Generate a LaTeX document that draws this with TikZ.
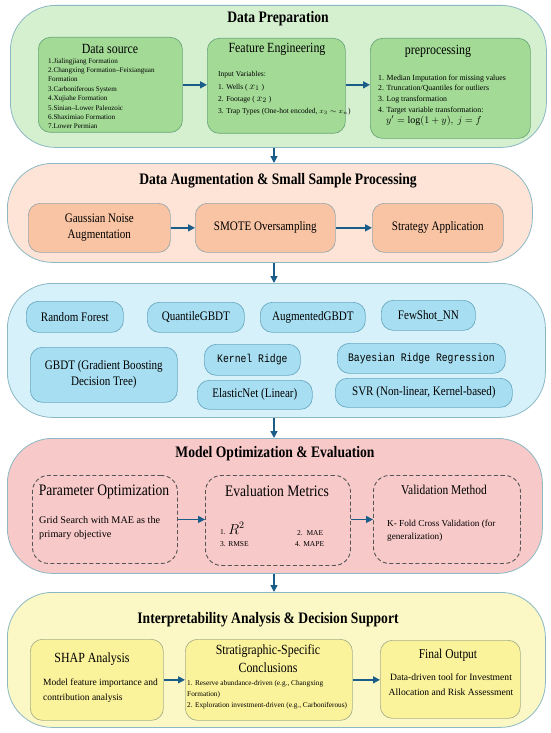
\documentclass[tikz,border=0pt]{standalone}
\usepackage{fontspec}
\setmainfont{Liberation Serif}
\newfontfamily\cond{Liberation Serif}[FakeStretch=0.85]
\newfontfamily\condmono{Liberation Mono}[FakeStretch=0.85]
\usetikzlibrary{arrows.meta}
\definecolor{pborder}{HTML}{8CB8C4}
\definecolor{gpanel}{HTML}{D5F0CF}
\definecolor{gboxc}{HTML}{A3DB96}
\definecolor{gboxb}{HTML}{6AA67A}
\definecolor{opanel}{HTML}{FDE4D6}
\definecolor{oboxc}{HTML}{F9C4A3}
\definecolor{oboxb}{HTML}{9AA7AD}
\definecolor{bpanel}{HTML}{D6F1FA}
\definecolor{bboxc}{HTML}{A8DEF1}
\definecolor{bboxb}{HTML}{6AAAC3}
\definecolor{ppanel}{HTML}{F8C9C9}
\definecolor{dashb}{HTML}{555555}
\definecolor{ypanel}{HTML}{FBF8C6}
\definecolor{yboxc}{HTML}{FBF39C}
\definecolor{yboxb}{HTML}{A9B08A}
\definecolor{arrc}{HTML}{1B5D89}
\tikzset{
  panel/.style={draw=pborder, line width=0.8pt, rounded corners=45pt, anchor=north west, inner sep=0},
  ibox/.style={line width=0.7pt, rounded corners=12pt, anchor=north west, inner sep=0},
  gbox/.style={ibox, draw=gboxb, fill=gboxc},
  obox/.style={ibox, draw=oboxb, fill=oboxc},
  bbox/.style={ibox, draw=bboxb, fill=bboxc},
  dbox/.style={ibox, draw=dashb, dashed, dash pattern=on 4pt off 2.5pt, line width=0.9pt, rounded corners=16pt},
  ybox/.style={ibox, draw=yboxb, fill=yboxc},
  arr/.style={draw=arrc, line width=1.4pt, -{Triangle[length=7pt,width=7pt]}},
  ttl/.style={font=\cond\bfseries\fontsize{16}{19}\selectfont, anchor=base, inner sep=0},
  btl/.style={font=\cond\fontsize{14}{16}\selectfont, anchor=base, inner sep=0},
  ctext/.style={font=\cond\fontsize{13}{16}\selectfont, align=center, inner sep=0},
  mtext/.style={font=\condmono\fontsize{11.5}{14}\selectfont, align=center, inner sep=0},
  body/.style={anchor=north west, align=left, inner sep=0}
}
\newcommand{\bigx}[1]{{\fontsize{10}{10}\selectfont$#1$}}
\begin{document}
\begin{tikzpicture}[x=1pt,y=-1pt]
\useasboundingbox[fill=white] (0,0) rectangle (550,733);
\coordinate (ax) at (274,0);

% ---------- Panel 1 ----------
\node[panel, fill=gpanel, minimum width=536pt, minimum height=142pt] (p1) at (10,5) {};
\node[ttl] (t1) at (278,23) {Data Preparation};
\node[gbox, minimum width=144pt, minimum height=95pt] (ds) at (38,37) {};
\node[gbox, minimum width=138pt, minimum height=95pt] (fe) at (207,38) {};
\node[gbox, minimum width=160pt, minimum height=100pt] (pp) at (370,38) {};
\node[btl] (dst) at (110,54) {Data source};
\node[body, font=\fontsize{7.1}{9.4}\selectfont] (dsl) at (48,58) {1.Jialingjiang Formation\\2.Changxing Formation–Feixianguan\\Formation\\3.Carboniferous System\\4.Xujiahe Formation\\5.Sinian–Lower Paleozoic\\6.Shaximiao Formation\\7.Lower Permian};
\node[btl] (fet) at (277,53) {Feature Engineering};
\node[body, font=\fontsize{7.5}{12}\selectfont] (fel) at (218,70.7) {Input Variables:\\[1pt]1. Wells ( \bigx{x_1} )\\2. Footage ( \bigx{x_2} )\\3. Trap Types (One-hot encoded, $x_3\sim x_n$)};
\node[btl] (ppt) at (438,55) {preprocessing};
\node[body, font=\fontsize{7.8}{10.8}\selectfont] (ppl) at (378,74.5) {1. Median Imputation for missing values\\2. Truncation/Quantiles for outliers\\3. Log transformation\\4. Target variable transformation:\\\hspace*{8pt}\bigx{y' = \log(1+y),\ j=f}};
\draw[arr] (ds.east) -- (fe.west |- ds.east);
\draw[arr] (fe.east |- ds.east) -- (pp.west |- ds.east);

% ---------- Panel 2 ----------
\node[panel, fill=opanel, minimum width=525pt, minimum height=99pt] (p2) at (7,163) {};
\node[ttl] (t2) at (278,184) {Data Augmentation \& Small Sample Processing};
\node[obox, minimum width=142pt, minimum height=49pt] (ga) at (28,203) {};
\node[obox, minimum width=140pt, minimum height=49pt] (sm) at (195,203) {};
\node[obox, minimum width=131pt, minimum height=49pt] (st) at (372,203) {};
\node[ctext] (gat) at (ga.center) {Gaussian Noise\\Augmentation};
\node[ctext] (smt) at (sm.center) {SMOTE Oversampling};
\node[ctext] (stt) at (st.center) {Strategy Application};
\draw[arr] (ga.east) -- (sm.west);
\draw[arr] (sm.east) -- (st.west);
\draw[arr] (p1.south -| ax) -- (p2.north -| ax);

% ---------- Panel 3 ----------
\node[panel, fill=bpanel, minimum width=538pt, minimum height=134pt] (p3) at (7,283) {};
\node[bbox, minimum width=97pt, minimum height=31pt] (rf) at (26,301) {};
\node[bbox, minimum width=97pt, minimum height=30pt] (qg) at (147,302) {};
\node[bbox, minimum width=105pt, minimum height=30pt] (ag) at (260,302) {};
\node[bbox, minimum width=94pt, minimum height=30pt] (fs) at (381,300) {};
\node[bbox, minimum width=147pt, minimum height=55pt] (gb) at (30,347) {};
\node[bbox, minimum width=96pt, minimum height=31pt] (kr) at (204,344) {};
\node[bbox, minimum width=168pt, minimum height=30pt] (br) at (337,343) {};
\node[bbox, minimum width=115pt, minimum height=29pt] (en) at (197,380) {};
\node[bbox, minimum width=177pt, minimum height=29pt] (sv) at (335,378) {};
\node[ctext] (rft) at (rf.center) {Random Forest};
\node[ctext] (qgt) at (qg.center) {QuantileGBDT};
\node[ctext] (agt) at (ag.center) {AugmentedGBDT};
\node[ctext] (fst) at (fs.center) {FewShot\_NN};
\node[ctext] (gbt) at (gb.center) {GBDT (Gradient Boosting\\Decision Tree)};
\node[mtext] (krt) at (kr.center) {Kernel Ridge};
\node[mtext] (brt) at (br.center) {Bayesian Ridge Regression};
\node[ctext] (ent) at (en.center) {ElasticNet (Linear)};
\node[ctext] (svt) at (sv.center) {SVR (Non-linear, Kernel-based)};
\draw[arr] (p2.south -| ax) -- (p3.north -| ax);

% ---------- Panel 4 ----------
\node[panel, fill=ppanel, minimum width=535pt, minimum height=135pt] (p4) at (7,438) {};
\node[ttl] (t4) at (275,457) {Model Optimization \& Evaluation};
\node[dbox, minimum width=145pt, minimum height=88pt] (po) at (32,475) {};
\node[dbox, minimum width=145pt, minimum height=90pt] (em) at (205,475) {};
\node[dbox, minimum width=147pt, minimum height=88pt] (vm) at (373,475) {};
\node[ttl, font=\cond\fontsize{16}{19}\selectfont] (pot) at (104,495) {Parameter Optimization};
\node[body, font=\fontsize{10.2}{14.5}\selectfont] (pob) at (39,515.8) {Grid Search with MAE as the\\primary objective};
\node[ttl, font=\cond\fontsize{16}{19}\selectfont] (emt) at (277,496) {Evaluation Metrics};
\node[anchor=base west, inner sep=0, font=\fontsize{7.5}{9}\selectfont] (m1) at (220,534) {1. {\fontsize{14}{14}\selectfont$R^2$}};
\node[anchor=base west, inner sep=0, font=\fontsize{7.5}{9}\selectfont] (m3) at (220,546) {3. RMSE};
\node[anchor=base west, inner sep=0, font=\fontsize{7.5}{9}\selectfont] (m2) at (297,535) {2.\ \ MAE};
\node[anchor=base west, inner sep=0, font=\fontsize{7.5}{9}\selectfont] (m4) at (295,546) {4. MAPE};
\node[ttl, font=\cond\fontsize{13.5}{16}\selectfont] (vmt) at (444,494) {Validation Method};
\node[body, font=\fontsize{9.2}{13}\selectfont] (vmb) at (387,519.5) {K- Fold Cross Validation (for\\generalization)};
\draw[arr] (po.east) -- (em.west |- po.east);
\draw[arr] (em.east |- po.east) -- (vm.west);
\draw[arr] (p3.south -| ax) -- (p4.north -| ax);

% ---------- Panel 5 ----------
\node[panel, fill=ypanel, minimum width=538pt, minimum height=135pt] (p5) at (7,592) {};
\node[ttl] (t5) at (268,623) {Interpretability Analysis \& Decision Support};
\node[ybox, minimum width=133pt, minimum height=81pt] (sh) at (30,639) {};
\node[ybox, minimum width=167pt, minimum height=81pt] (sc) at (185,639) {};
\node[ybox, minimum width=140pt, minimum height=78pt] (fo) at (380,640) {};
\node[btl] (sht) at (92,662) {SHAP Analysis};
\node[body, font=\fontsize{9.5}{15}\selectfont] (shb) at (43,679) {Model feature importance and\\contribution analysis};
\node[btl, anchor=north, align=center, font=\cond\fontsize{14}{18}\selectfont] (sct) at (268,644.2) {Stratigraphic-Specific\\Conclusions};
\node[body, font=\fontsize{7.3}{11}\selectfont] (scb) at (187,680) {1. Reserve abundance-driven (e.g., Changxing\\Formation)\\2. Exploration investment-driven (e.g., Carboniferous)};
\node[ttl, font=\cond\fontsize{13.5}{16}\selectfont] (fot) at (448,658) {Final Output};
\node[anchor=north, align=center, inner sep=0, font=\fontsize{9.6}{15}\selectfont] (fob) at (451,674) {Data-driven tool for Investment\\Allocation and Risk Assessment};
\draw[arr] (sh.east) -- (sc.west);
\draw[arr] (sc.east) -- (fo.west |- sc.east);
\draw[arr] (p4.south -| ax) -- (p5.north -| ax);
\end{tikzpicture}
\end{document}
